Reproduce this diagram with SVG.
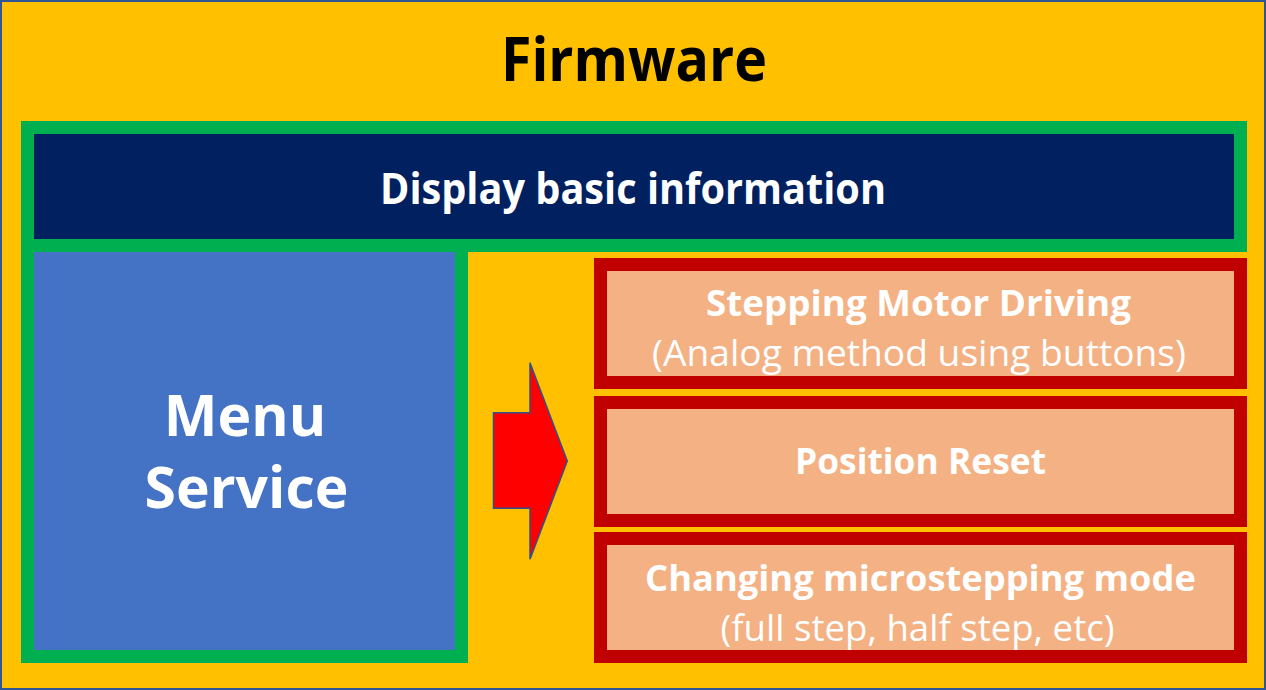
<svg xmlns="http://www.w3.org/2000/svg" width="1266" height="690" viewBox="0 0 1266 690">
  <style>
    .t { font-family: "Open Sans", "Noto Sans", "Liberation Sans", sans-serif; text-anchor: middle; }
    .b { font-weight: 700; }
    .r { font-weight: 400; }
    .white { fill: #FFFFFF; }
    .item-frame { fill: #C00000; }
    .item-body { fill: #F4B183; }
  </style>

  <!-- Firmware background -->
  <g id="firmware">
    <rect x="1" y="1" width="1264" height="688" fill="#FFC000" stroke="#2F5597" stroke-width="2"/>
    <text class="t b" x="634" y="81" font-size="61" fill="#000000" textLength="266" lengthAdjust="spacingAndGlyphs">Firmware</text>
  </g>

  <!-- Green frame joining the display bar and the menu block -->
  <g id="frame">
    <rect x="21" y="121" width="1226" height="131" fill="#00B050"/>
    <rect x="21" y="239" width="447" height="424" fill="#00B050"/>
  </g>

  <g id="display">
    <rect x="34" y="134" width="1200" height="105" fill="#002060"/>
    <text class="t b white" x="633" y="204" font-size="43" textLength="506" lengthAdjust="spacingAndGlyphs">Display basic information</text>
  </g>

  <g id="menu">
    <rect x="34" y="252" width="421" height="398" fill="#4472C4"/>
    <!-- two-line label kept in one text element (no whitespace between lines) -->
    <text class="t b white" font-size="57"><tspan x="245" y="436">Menu</tspan><tspan x="246.5" y="508">Service</tspan></text>
  </g>

  <!-- Connector: block arrow from menu to the items -->
  <g id="connectors">
    <polygon points="493.5,412.7 530,412.7 530,362.7 567.3,461 530,559.3 530,508.3 493.5,508.3" fill="#FF0000" stroke="#2F528F" stroke-width="1.5"/>
  </g>

  <g id="stepping">
    <rect class="item-frame" x="594" y="258" width="653" height="131"/>
    <rect class="item-body" x="607" y="271" width="627" height="105"/>
    <text class="t b white" x="918.5" y="315.5" font-size="36" textLength="425" lengthAdjust="spacingAndGlyphs">Stepping Motor Driving</text>
    <text class="t r white" x="919" y="365.5" font-size="36" textLength="534" lengthAdjust="spacingAndGlyphs">(Analog method using buttons)</text>
  </g>

  <g id="reset">
    <rect class="item-frame" x="594" y="396" width="653" height="131"/>
    <rect class="item-body" x="607" y="409" width="627" height="105"/>
    <text class="t b white" x="920.5" y="474" font-size="36" textLength="251" lengthAdjust="spacingAndGlyphs">Position Reset</text>
  </g>

  <g id="microstep">
    <rect class="item-frame" x="594" y="532" width="653" height="131"/>
    <rect class="item-body" x="607" y="545" width="627" height="105"/>
    <text class="t b white" x="920.5" y="590.5" font-size="36" textLength="551" lengthAdjust="spacingAndGlyphs">Changing microstepping mode</text>
    <text class="t r white" x="917.5" y="640.5" font-size="36" textLength="394" lengthAdjust="spacingAndGlyphs">(full step, half step, etc)</text>
  </g>
</svg>
